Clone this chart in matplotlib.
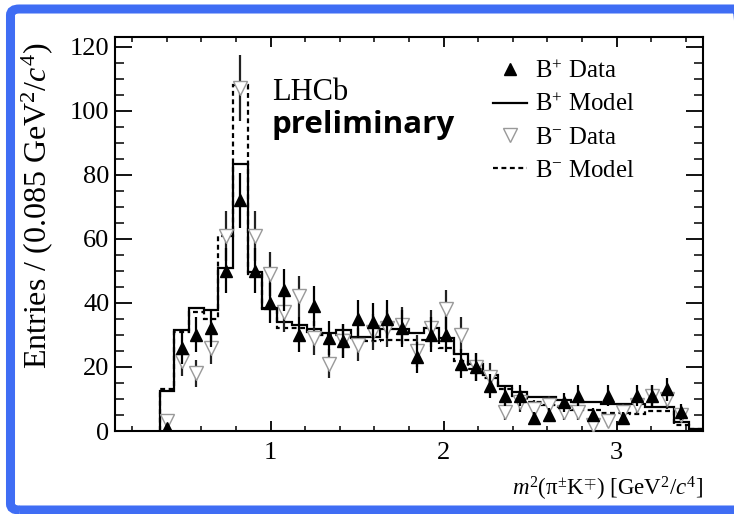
import numpy as np
import matplotlib
matplotlib.use("Agg")
import matplotlib.pyplot as plt
from matplotlib.lines import Line2D
from matplotlib.patches import FancyBboxPatch

plt.rcParams['font.family'] = ['Liberation Serif', 'DejaVu Serif']
plt.rcParams['mathtext.fontset'] = 'custom'
plt.rcParams['mathtext.rm'] = 'Liberation Serif'
plt.rcParams['mathtext.it'] = 'Liberation Serif:italic'

# binning (bin width is the one quoted on the y label)
bin_start = 0.3575
bin_width = 0.085

# counts per bin, B+ and B- data
bplus_data = [1, 26, 30, 32, 50, 72, 50, 40, 44, 30, 39, 29, 28, 35, 34, 35, 32, 23,
              30, 30, 21, 20, 14, 11, 11, 4, 5, 9, 11, 5, 11, 4, 11, 11, 13, 6]
bminus_data = [3, 22, 18, 26, 61, 107, 61, 49, 37, 42, 29, 21, 28, 27, 31, 32, 33, 25,
               32, 38, 30, 20, 17, 6, 9, 7, 8, 6, 6, 2, 3, 6, 8, 11, 10, 5]

# fitted model histograms
bplus_model = [12.5, 31.5, 38.5, 37.8, 51, 83.5, 49.5, 38.5, 34, 33, 31.8, 30.5, 31.4,
               29.5, 29.5, 31.8, 31.8, 30.5, 32, 29, 24, 21, 17.5, 14, 12.3, 10.5, 10.5,
               9.7, 9.2, 9.2, 8.4, 8.4, 8.4, 7.4, 7.4, 2.9, 0.6]
bminus_model = [13, 31, 37, 35, 61, 108, 49, 38, 32, 32, 31, 30, 30, 29, 28, 28.4, 28.4,
                28.4, 28.4, 26, 22, 19.5, 16.5, 13, 11, 9, 8, 7.5, 6.6, 6.6, 5.7, 5.5,
                5.3, 6.2, 6.2, 1.9, 0.5]

edges = bin_start + bin_width * np.arange(len(bplus_model) + 1)
centers = edges[:len(bplus_data)] + bin_width / 2
bp = np.array(bplus_data, dtype=float)
bm = np.array(bminus_data, dtype=float)

W, H = 734, 514
fig = plt.figure(figsize=(W / 100, H / 100), dpi=100)
ax = fig.add_axes([115 / W, 1 - 431 / H, (703 - 115) / W, (431 - 37) / H])

dash = (0, (2.2, 1.6))

# models
ax.stairs(bplus_model, edges, color='k', lw=1.6, baseline=0)
ax.stairs(bminus_model, edges, color='k', lw=1.6, baseline=0, linestyle=dash)

# data (poisson errors)
ax.errorbar(centers, bm, yerr=np.sqrt(bm), fmt='v', ms=10.5, mfc='white', mec='#999999',
            mew=1.0, ecolor='#222222', elinewidth=1.6, capsize=0, zorder=3)
ax.errorbar(centers, bp, yerr=np.sqrt(bp), fmt='^', ms=9, color='k', mec='k',
            elinewidth=1.6, capsize=0, zorder=4)

ax.set_xlim(0.1, 3.5)
ax.set_ylim(0, 123)
ax.set_xticks([1, 2, 3])
ax.set_xticks(np.arange(0.2, 3.5, 0.2), minor=True)
ax.set_yticks(np.arange(0, 121, 20))
ax.set_yticks(np.arange(0, 123, 5), minor=True)
for s in ax.spines.values():
    s.set_linewidth(1.5)
ax.tick_params(axis='x', which='major', direction='in', top=True, length=7.5, width=1.3,
               labelsize=19, pad=8)
ax.tick_params(axis='x', which='minor', direction='in', top=True, length=3.8, width=1.1)
ax.tick_params(axis='y', which='major', direction='in', right=True, length=12, width=1.3,
               labelsize=19, pad=4)
ax.tick_params(axis='y', which='minor', direction='in', right=True, length=6.5, width=1.1)

fig.text(37 / W, 1 - 206 / H, 'Entries / (0.085 GeV$^2$/$c^4$)', rotation=90,
         ha='center', va='center', fontsize=23)
fig.text(703 / W, 1 - 489 / H,
         r'$m^{2}(\mathrm{\pi}^{\pm}\mathrm{K}^{\mp})\ [\mathrm{GeV}^{2}/c^{4}]$',
         ha='right', va='center', fontsize=16.5)

fig.text(272 / W, 1 - 92 / H, 'LHCb', ha='left', va='center', fontsize=22)
fig.text(272 / W, 1 - 125 / H, 'preliminary', ha='left', va='center', fontsize=22.5,
         family='Open Sans', weight='bold')

handles = [
    Line2D([], [], marker='^', ls='none', color='k', ms=9),
    Line2D([], [], color='k', lw=1.6),
    Line2D([], [], marker='v', ls='none', mfc='white', mec='#999999', ms=10.5),
    Line2D([], [], color='k', lw=1.6, linestyle=dash),
]
labels = ['B$^{+}$ Data', 'B$^{+}$ Model', 'B$^{-}$ Data', 'B$^{-}$ Model']
ax.legend(handles, labels, loc='upper left', bbox_to_anchor=(493 / W, 1 - 60 / H),
          bbox_transform=fig.transFigure, frameon=False, fontsize=17.8,
          handlelength=1.38, handletextpad=0.32, labelspacing=0.42,
          borderpad=0, borderaxespad=0)

# blue slide frame
frame = FancyBboxPatch((10.5 / W, 1 - 510 / H), (745 - 10.5) / W, (510 - 9) / H,
                       boxstyle='round,pad=0,rounding_size=0.012',
                       transform=fig.transFigure, fill=False, ec='#3f6df4', lw=6.5,
                       clip_on=False)
fig.patches.append(frame)

fig.savefig('out.png', dpi=100)
